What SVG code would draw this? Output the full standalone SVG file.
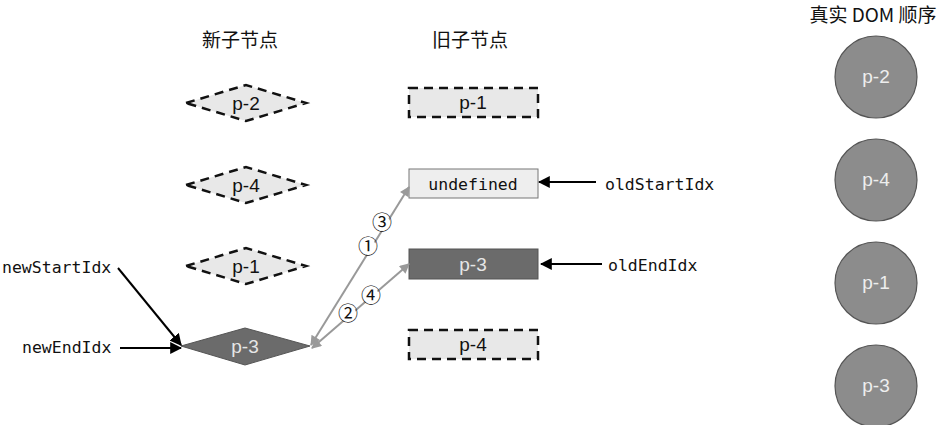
<svg xmlns="http://www.w3.org/2000/svg" width="942" height="425" viewBox="0 0 942 425">
<defs>
<style>
.hdr{font-family:"Noto Sans CJK SC","Liberation Sans",sans-serif;font-size:19px;fill:#111}
.lbl{font-family:"Liberation Sans",Arial,sans-serif;font-size:19px;text-anchor:middle}
.mono{font-family:"DejaVu Sans Mono","Liberation Mono",monospace;font-size:16.5px;fill:#111}
.dash{fill:#e8e8e8;stroke:#111;stroke-width:2.5;stroke-dasharray:9 6}
.dark{fill:#6b6b6b;stroke:#555;stroke-width:1}
.dom{fill:#8c8c8c;stroke:#555;stroke-width:1.2}
.blk{stroke:#000;stroke-width:2;fill:none}
.gry{stroke:#999;stroke-width:2;fill:none}
.num{font-family:"Noto Sans CJK SC","DejaVu Sans",sans-serif;font-size:20px;text-anchor:middle;fill:#111}
</style>
<marker id="ab" viewBox="0 0 10 10" refX="9" refY="5" markerWidth="6" markerHeight="6" orient="auto" markerUnits="strokeWidth"><path d="M0,0 L10,5 L0,10 z" fill="#000"/></marker>
<marker id="ag" viewBox="0 0 10 10" refX="9" refY="5" markerWidth="7" markerHeight="5" orient="auto-start-reverse" markerUnits="strokeWidth"><path d="M0,0 L10,5 L0,10 z" fill="#999"/></marker>
</defs>
<rect width="942" height="425" fill="#fff"/>
<text class="hdr" x="240" y="47" text-anchor="middle">新子节点</text>
<text class="hdr" x="470" y="47" text-anchor="middle">旧子节点</text>
<text class="hdr" x="873" y="22" text-anchor="middle">真实 DOM 顺序</text>

<g id="new-p2"><polygon class="dash" points="186,103 246,85 306,103 246,121"/><text class="lbl" x="246" y="110" fill="#111">p-2</text></g>
<g id="new-p4"><polygon class="dash" points="186,185 246,167 306,185 246,203"/><text class="lbl" x="246" y="192" fill="#111">p-4</text></g>
<g id="new-p1"><polygon class="dash" points="186,266 246,248 306,266 246,284"/><text class="lbl" x="246" y="273" fill="#111">p-1</text></g>
<g id="new-p3"><polygon class="dark" points="181,346 245,328 310,346 245,365"/><text class="lbl" x="245" y="353" fill="#e6e6e6">p-3</text></g>

<g id="old-p1"><rect class="dash" x="409" y="88" width="129" height="29"/><text class="lbl" x="473" y="109" fill="#111">p-1</text></g>
<g id="old-undefined"><rect x="409" y="169" width="129" height="29" fill="#eeeeee" stroke="#777" stroke-width="1"/><text class="mono" x="473" y="190" text-anchor="middle">undefined</text></g>
<g id="old-p3"><rect class="dark" x="409" y="249" width="129" height="30"/><text class="lbl" x="473" y="271" fill="#e6e6e6">p-3</text></g>
<g id="old-p4"><rect class="dash" x="409" y="330" width="129" height="29"/><text class="lbl" x="473" y="351" fill="#111">p-4</text></g>

<g id="dom-p2"><circle class="dom" cx="876" cy="77" r="41"/><text class="lbl" x="876" y="83" fill="#eee">p-2</text></g>
<g id="dom-p4"><circle class="dom" cx="876" cy="180" r="41"/><text class="lbl" x="876" y="186" fill="#eee">p-4</text></g>
<g id="dom-p1"><circle class="dom" cx="876" cy="283" r="41"/><text class="lbl" x="876" y="289" fill="#eee">p-1</text></g>
<g id="dom-p3"><circle class="dom" cx="876" cy="386" r="41"/><text class="lbl" x="876" y="392" fill="#eee">p-3</text></g>

<g id="idx-labels">
<text class="mono" x="2" y="273">newStartIdx</text>
<text class="mono" x="22" y="353">newEndIdx</text>
<text class="mono" x="605" y="190">oldStartIdx</text>
<text class="mono" x="608" y="271">oldEndIdx</text>
</g>

<g id="connectors">
<line class="blk" x1="118" y1="268" x2="181" y2="345" marker-end="url(#ab)"/>
<line class="blk" x1="120" y1="348" x2="181" y2="348" marker-end="url(#ab)"/>
<line class="blk" x1="596" y1="182" x2="539" y2="182" marker-end="url(#ab)"/>
<line class="blk" x1="602" y1="264" x2="541" y2="264" marker-end="url(#ab)"/>
<line class="gry" x1="311" y1="345" x2="409" y2="187" marker-start="url(#ag)" marker-end="url(#ag)"/>
<line class="gry" x1="312" y1="348" x2="409" y2="264" marker-start="url(#ag)" marker-end="url(#ag)"/>
<circle cx="382" cy="223" r="8" fill="#fff"/><text class="num" x="382" y="230">③</text>
<circle cx="368" cy="247" r="8" fill="#fff"/><text class="num" x="368" y="254">①</text>
<circle cx="371" cy="296" r="8" fill="#fff"/><text class="num" x="371" y="303">④</text>
<circle cx="348" cy="314" r="8" fill="#fff"/><text class="num" x="348" y="321">②</text>
</g>
</svg>
